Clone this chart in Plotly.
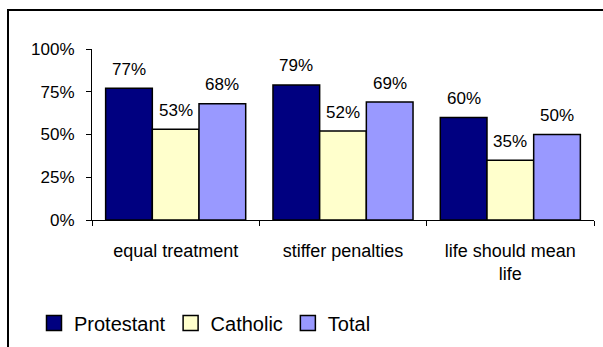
import plotly.graph_objects as go

# Survey results by group
categories = ["equal treatment", "stiffer penalties", "life should mean life"]
tick_labels = ["equal treatment", "stiffer penalties", "life should mean<br>life"]
series_names = ["Protestant", "Catholic", "Total"]
protestant = [0.77, 0.79, 0.60]
catholic = [0.53, 0.52, 0.35]
total = [0.68, 0.69, 0.50]
y_ticks = [0, 0.25, 0.5, 0.75, 1.0]
y_tick_labels = ["0%", "25%", "50%", "75%", "100%"]

series_values = [protestant, catholic, total]
colors = ["#000080", "#FFFFCC", "#9999FF"]

FONT = "Liberation Sans, Arial, sans-serif"
W, H = 603, 347
M_L, M_R, M_T, M_B = 92, 9, 49, 127
plot_w = W - M_L - M_R
plot_h = H - M_T - M_B
bargap = 0.163
bar_px = plot_w / len(categories) * (1 - bargap) / len(series_names)

fig = go.Figure()

for name, vals, col in zip(series_names, series_values, colors):
    fig.add_trace(go.Bar(
        x=categories, y=vals, name=name,
        marker=dict(color=col, line=dict(color="black", width=1.5)),
        showlegend=False,
    ))
    # legend proxy with a larger square swatch
    fig.add_trace(go.Scatter(
        x=[None], y=[None], mode="markers", name=name,
        marker=dict(symbol="square", size=15, color=col,
                    line=dict(color="black", width=1.5)),
        showlegend=True,
    ))

# value labels above each bar
annotations = []
for i, vals in enumerate(series_values):
    shift = (i - (len(series_names) - 1) / 2) * bar_px
    for cat, v in zip(categories, vals):
        annotations.append(dict(
            x=cat, y=v, xref="x", yref="y",
            text=f"{round(v * 100)}%", showarrow=False,
            xshift=shift, yshift=19, yanchor="middle",
            font=dict(family=FONT, size=17, color="black"),
        ))

fig.update_layout(
    width=W, height=H,
    margin=dict(l=M_L, r=M_R, t=M_T, b=M_B, autoexpand=False),
    paper_bgcolor="white", plot_bgcolor="white",
    barmode="group", bargap=bargap, bargroupgap=0,
    font=dict(family=FONT, size=17, color="black"),
    annotations=annotations,
    legend=dict(
        orientation="h", xref="container", yref="container",
        x=34 / W, xanchor="left", y=1 - 323 / H, yanchor="middle",
        font=dict(family=FONT, size=20, color="black"),
        bgcolor="rgba(0,0,0,0)", tracegroupgap=0,
    ),
    shapes=[dict(
        type="rect", xref="paper", yref="paper",
        x0=(8 - M_L) / plot_w, x1=(W + 5 - M_L) / plot_w,
        y0=-1.0, y1=(H - M_B - 10) / plot_h,
        line=dict(color="black", width=2), fillcolor="rgba(0,0,0,0)",
        layer="below",
    )],
)

fig.update_xaxes(
    type="category", tickmode="array", tickvals=categories, ticktext=tick_labels,
    tickson="boundaries", ticks="outside", ticklen=5, tickcolor="black",
    showline=True, linecolor="black", linewidth=1, showgrid=False,
    ticklabelstandoff=14,
    tickfont=dict(family=FONT, size=18, color="black"),
)
fig.update_yaxes(
    range=[0, 1], tickmode="array", tickvals=y_ticks, ticktext=y_tick_labels,
    ticks="outside", ticklen=5, tickcolor="black",
    showline=True, linecolor="black", linewidth=1, showgrid=False,
    zeroline=False, ticklabelstandoff=8,
    tickfont=dict(family=FONT, size=17, color="black"),
)

fig.write_html("out.html")
